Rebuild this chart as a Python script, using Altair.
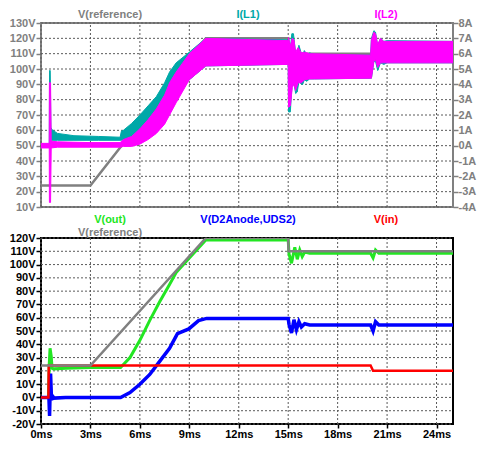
import altair as alt
import pandas as pd

# ---------------- data (time in ms) ----------------
# Upper pane
ref_t = [0, 3, 10, 15, 15.02, 25]
ref_v = [24, 24, 120, 120, 110, 110]

il1_t = [0, 0.50, 0.52, 0.56, 0.60, 0.66, 1.0, 2.0, 3.5, 4.8,
         4.88, 5.0, 5.5, 6.0, 6.5, 7.0, 7.5, 7.8, 8.2, 9.0,
         10.0, 15.0, 15.02, 15.13, 15.22, 15.32, 15.45, 15.55, 15.65, 15.8,
         15.88, 15.98, 16.12, 16.3, 16.6, 20.0, 20.05, 20.2, 20.3, 20.43,
         20.6, 20.8, 21.0, 25.0]
il1_lo = [-0.1, -0.1, -0.1, 0.2, 0.35, 0.35, 0.35, 0.35, 0.35, 0.35,
          0.35, 0.4, 0.5, 0.8, 1.2, 1.7, 2.3, 2.7, 3.4, 4.3,
          5.2, 5.3, 2.2, 2.2, 3.8, 4.3, 3.4, 3.5, 4.2, 4.0,
          4.0, 4.3, 4.2, 4.35, 4.35, 4.4, 4.4, 5.5, 5.5, 4.9,
          5.4, 5.3, 5.4, 5.4]
il1_hi = [0.1, 0.1, 4.9, 4.9, 1.2, 1.05, 0.8, 0.65, 0.6, 0.55,
          0.95, 1.0, 1.45, 2.0, 2.6, 3.2, 4.1, 4.8, 5.4, 6.1,
          7.0, 6.9, 7.0, 6.3, 7.3, 7.3, 6.0, 5.9, 6.55, 6.0,
          5.9, 6.2, 5.95, 6.05, 5.95, 5.9, 7.0, 7.5, 7.4, 6.5,
          7.0, 6.8, 6.85, 6.8]

il2_t = [0, 0.50, 0.51, 0.58, 0.62, 1.0, 3.0, 4.8, 5.0, 5.5,
         6.0, 6.5, 7.0, 7.5, 7.8, 8.2, 9.0, 10.0, 15.0, 15.02,
         15.13, 15.25, 15.35, 15.45, 15.6, 15.8, 16.0, 16.3, 20.0, 20.05,
         20.2, 20.3, 20.43, 20.6, 20.8, 25.0]
il2_lo = [-0.15, -0.15, -3.7, -3.7, -0.15, -0.1, -0.1, -0.1, -0.05, -0.05,
          0.1, 0.4, 0.8, 1.4, 2.0, 2.8, 4.3, 5.2, 5.3, 2.5,
          2.6, 3.8, 4.0, 3.6, 4.1, 4.1, 4.3, 4.35, 4.4, 4.4,
          5.5, 5.6, 5.1, 5.4, 5.4, 5.4]
il2_hi = [0.15, 0.15, 4.1, 4.1, 0.3, 0.25, 0.2, 0.2, 0.4, 0.6,
          1.1, 1.7, 2.4, 3.3, 4.1, 4.8, 6.0, 7.0, 6.85, 7.05,
          6.5, 7.0, 6.9, 6.1, 6.4, 6.05, 6.1, 6.0, 5.9, 6.9,
          7.4, 7.3, 6.6, 7.0, 6.8, 6.8]

# Lower pane
vout_t = [0, 0.45, 0.5, 0.55, 0.62, 0.67, 0.75, 1.5, 3.0, 4.83,
          5.4, 6.0, 6.6, 7.2, 7.8, 8.2, 9.0, 10.0, 15.0, 15.05,
          15.2, 15.4, 15.55, 15.7, 15.85, 16.0, 16.3, 20.0, 20.15, 20.3,
          20.5, 25]
vout_v = [0, 0, 25, 37, 31, 22, 21.5, 22, 22.5, 22.5,
          30, 43, 58, 72, 85, 94, 105, 118.5, 118.5, 108,
          101, 113, 104, 111, 106, 109.5, 108.5, 108.5, 105, 111,
          108.5, 108.5]

vd2_t = [0, 0.48, 0.52, 0.58, 0.64, 0.7, 0.8, 1.5, 4.83, 5.4,
         6.0, 6.6, 7.2, 7.8, 8.28, 8.97, 9.56, 10.05, 15.0, 15.05,
         15.2, 15.35, 15.5, 15.65, 15.8, 16.0, 16.3, 20.0, 20.15, 20.3,
         20.5, 25]
vd2_v = [0, 0, -14, 18, -2, 1, -0.5, 0, 0, 3.7,
         9.9, 17.3, 27.1, 36.9, 48, 51.6, 57.8, 59.5, 59.5, 55,
         48.5, 58.5, 51, 57, 53, 55.5, 54.5, 54.5, 50, 57,
         54.5, 54.5]

vin_t = [0, 0.45, 0.47, 20.0, 20.15, 25]
vin_v = [0, 0, 24, 24, 20, 20]

x_ticks = [0, 3, 6, 9, 12, 15, 18, 21, 24]
top_v_ticks = list(range(10, 131, 10))
top_a_ticks = list(range(-4, 9))
bot_v_ticks = list(range(-20, 121, 10))
x_domain = [0, 25]
top_v_domain = [10, 130]
top_a_domain = [-4, 8]
bot_v_domain = [-20, 120]

# ---------------- styling ----------------
FONT = "Liberation Sans"
GRAY = "#808080"
TEAL = "#00A8A8"
MAGENTA = "#FF00FF"
GREEN = "#22E622"
BLUE = "#0000FF"
RED = "#FF0000"
GRID = "#5a5a5a"
W = 412
H_TOP = 184
H_BOT = 186

xscale = alt.Scale(domain=x_domain, nice=False, zero=False)

top_x_axis = alt.Axis(values=x_ticks, labels=False, ticks=False, domain=False,
                      grid=False, title=None, minExtent=0, maxExtent=0)
bot_x_axis = alt.Axis(values=x_ticks, labelExpr="datum.value + 'ms'", title=None,
                      labelColor="black", labelFont=FONT, labelFontSize=11,
                      labelFontWeight="bold", labelFlush=False,
                      tickColor="black", tickSize=4, tickWidth=1.5,
                      labelPadding=0, domain=False, grid=False)


def yaxis_left(values, color):
    return alt.Axis(values=values, labelExpr="datum.value + 'V'", title=None,
                    labelColor=color, labelFont=FONT, labelFontSize=11,
                    labelFontWeight="bold", tickColor=color, tickSize=5, tickWidth=1.5,
                    labelPadding=1, domain=False, grid=False,
                    minExtent=31, maxExtent=31, labelOverlap=False)


def label(txt, color, x, y):
    return alt.Chart(pd.DataFrame({"k": [0]})).mark_text(
        text=txt, color=color, font=FONT, fontSize=11, fontWeight="bold",
        align="center", baseline="middle").encode(x=alt.value(x), y=alt.value(y))


def grid_layers(x_axis, yscale, yaxis, ydomain, yticks):
    vdf = pd.DataFrame({"t": x_ticks, "lo": [ydomain[0]] * len(x_ticks),
                        "hi": [ydomain[1]] * len(x_ticks)})
    hdf = pd.DataFrame({"v": yticks, "x0": [x_domain[0]] * len(yticks),
                        "x1": [x_domain[1]] * len(yticks)})
    vg = alt.Chart(vdf).mark_rule(color=GRID, strokeWidth=1, strokeDash=[2, 2]).encode(
        x=alt.X("t:Q", scale=xscale, axis=x_axis),
        y=alt.Y("lo:Q", scale=yscale, axis=yaxis), y2="hi:Q")
    hg = alt.Chart(hdf).mark_rule(color=GRID, strokeWidth=1, strokeDash=[2, 2]).encode(
        y=alt.Y("v:Q", scale=yscale, axis=yaxis),
        x=alt.X("x0:Q", scale=xscale, axis=x_axis), x2="x1:Q")
    return [hg, vg]


# ---------------- upper pane ----------------
ref_df = pd.DataFrame({"t": ref_t, "v": ref_v})
il1_df = pd.DataFrame({"t": il1_t, "lo": il1_lo, "hi": il1_hi})
il2_df = pd.DataFrame({"t": il2_t, "lo": il2_lo, "hi": il2_hi})

v_scale_top = alt.Scale(domain=top_v_domain, nice=False, zero=False)
v_axis_top = yaxis_left(top_v_ticks, GRAY)
top_x = alt.X("t:Q", scale=xscale, axis=top_x_axis)

ref_top = alt.Chart(ref_df).mark_line(color=GRAY, strokeWidth=2.5, clip=True).encode(
    x=top_x,
    y=alt.Y("v:Q", scale=v_scale_top, axis=v_axis_top))

a_scale = alt.Scale(domain=top_a_domain, nice=False, zero=False)
a_axis = alt.Axis(orient="right", values=top_a_ticks, labelExpr="datum.value + 'A'",
                  title=None, labelColor=GRAY, labelFont=FONT, labelFontSize=11,
                  labelFontWeight="bold", tickColor=GRAY, tickSize=5, tickWidth=1.5,
                  labelPadding=0, domain=False, grid=False, labelOverlap=False)

teal = alt.Chart(il1_df).mark_area(color=TEAL, opacity=1, clip=True,
                                   stroke=TEAL, strokeWidth=1).encode(
    x=top_x, y=alt.Y("lo:Q", scale=a_scale, axis=a_axis), y2="hi:Q")
mag = alt.Chart(il2_df).mark_area(color=MAGENTA, opacity=1, clip=True,
                                  stroke=MAGENTA, strokeWidth=1).encode(
    x=top_x, y=alt.Y("lo:Q", scale=a_scale, axis=a_axis), y2="hi:Q")

volts_top = alt.layer(*grid_layers(top_x_axis, v_scale_top, v_axis_top,
                                   top_v_domain, top_v_ticks), ref_top)
currents = alt.layer(teal, mag)

top = alt.layer(
    volts_top, currents,
    label("V(reference)", GRAY, 69, -8),
    label("I(L1)", TEAL, 207, -8),
    label("I(L2)", MAGENTA, 345, -8),
).resolve_scale(y="independent").properties(
    width=W, height=H_TOP,
    view=alt.ViewBackground(stroke=GRAY, strokeWidth=2))

# ---------------- lower pane ----------------
by_scale = alt.Scale(domain=bot_v_domain, nice=False, zero=False)
by_axis = yaxis_left(bot_v_ticks, "black")
bot_x = alt.X("t:Q", scale=xscale, axis=bot_x_axis)
by = alt.Y("v:Q", scale=by_scale, axis=by_axis)


def trace(ts, vs, color, width):
    df = pd.DataFrame({"t": ts, "v": vs})
    return alt.Chart(df).mark_line(color=color, strokeWidth=width, clip=True).encode(
        x=bot_x, y=by)


bottom = alt.layer(
    *grid_layers(bot_x_axis, by_scale, by_axis, bot_v_domain, bot_v_ticks),
    trace(vout_t, vout_v, GREEN, 3),
    trace(vd2_t, vd2_v, BLUE, 3.5),
    trace(vin_t, vin_v, RED, 2.5),
    trace(ref_t, ref_v, GRAY, 2.5),
    label("V(out)", GREEN, 69, -18),
    label("V(D2Anode,UDS2)", BLUE, 207, -18),
    label("V(in)", RED, 345, -18),
    label("V(reference)", GRAY, 69, -5),
).properties(width=W, height=H_BOT,
             view=alt.ViewBackground(stroke="black", strokeWidth=2))

chart = alt.vconcat(top, bottom, spacing=0).properties(
    padding={"left": 0, "top": 0, "right": 0, "bottom": 0}
).configure(background="white")

chart.save("out.html", embed_options={"renderer": "svg", "actions": False})
